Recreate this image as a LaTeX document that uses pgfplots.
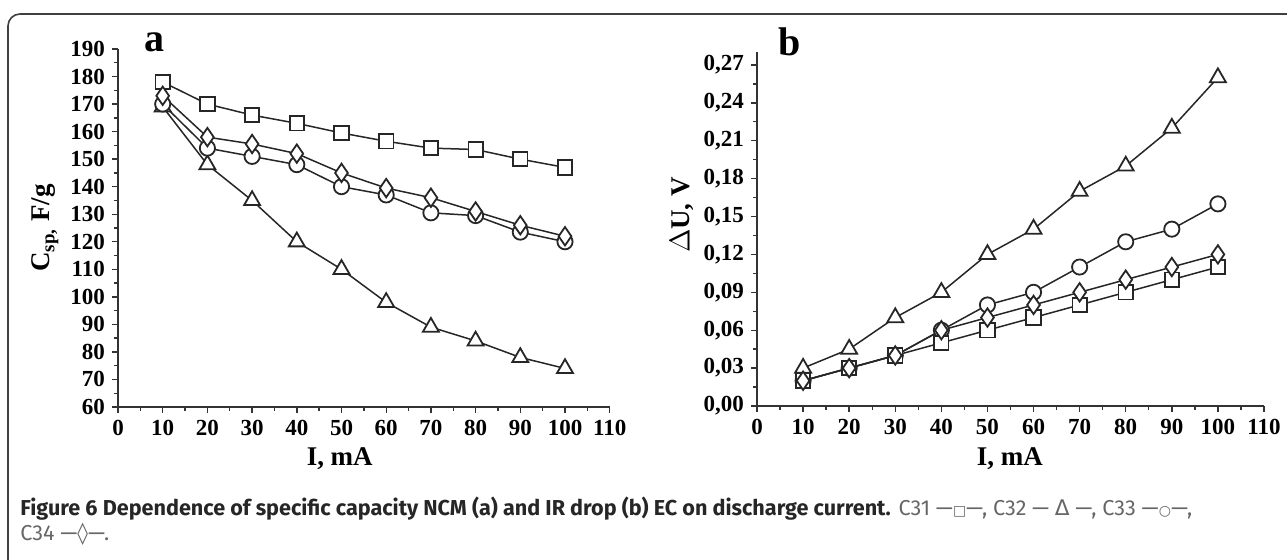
\documentclass[border=0pt]{standalone}
\usepackage{fontspec}
\setmainfont{Liberation Serif}
\newfontfamily\capfont{Fira Sans}
\newfontfamily\symfont{DejaVu Sans}
\usepackage{pgfplots}
\pgfplotsset{compat=1.18}
\pgfplotsset{
  panel/.style={
    scale only axis,
    axis lines*=left,
    axis line style={line width=0.8pt, black!80},
    tick align=outside,
    major tick length=3pt, minor tick length=1.8pt,
    tick style={line width=0.7pt, black!80},
    minor x tick num=1, minor y tick num=1,
    xmin=0, xmax=110, xtick={0,10,...,110},
    tick label style={font=\fontsize{11.5}{12}\selectfont\bfseries},
    /pgf/number format/assume math mode=true,
    label style={font=\fontsize{13.5}{15}\selectfont\bfseries},
    every axis plot/.append style={line width=0.75pt, black!85},
    clip=false,
  },
  mk/.style={mark options={solid, fill=white, line width=0.9pt}},
  sq/.style={mk, mark=square*, mark size=3.6pt},
  tri/.style={mk, mark=triangle*, mark size=4.6pt},
  cir/.style={mk, mark=*, mark size=3.8pt},
  dia/.style={mark=diamond*, mark size=4.6pt, mark options={solid, fill=white, line width=0.9pt, xscale=0.92}},
}
\begin{document}
\begin{tikzpicture}
\useasboundingbox (0,0) rectangle (643.5pt,-280pt);
% frame
\draw[line width=0.8pt, black!75, rounded corners=6pt] (4pt,-290pt) -- (4pt,-7pt) -- (650pt,-7pt);

\begin{axis}[panel,
  width=245.85pt, height=179pt, at={(59pt,-203.5pt)}, anchor=south west,
  ymin=60, ymax=190, ytick={60,70,...,190},
  xlabel={I, mA}, ylabel={C\textsubscript{sp,} F/g},
  xlabel style={at={(axis description cs:0.451,-0.145)}, anchor=center},
  ylabel style={at={(axis description cs:-0.148,0.5)}, anchor=center},
]
\addplot[sq] coordinates {(10,178) (20,170) (30,166) (40,163) (50,159.5) (60,156.5) (70,154) (80,153.5) (90,150) (100,147)};
\addplot[tri] coordinates {(10,169) (20,148) (30,135) (40,120) (50,110) (60,98) (70,89) (80,84) (90,78) (100,74)};
\addplot[cir] coordinates {(10,170) (20,154) (30,151) (40,148) (50,140) (60,137) (70,130.5) (80,129.5) (90,123.5) (100,120)};
\addplot[dia] coordinates {(10,173) (20,158) (30,155.5) (40,152) (50,145) (60,139.5) (70,136) (80,131) (90,126) (100,122)};
\node[font=\fontsize{20}{22}\selectfont\bfseries] at (axis description cs:0.075,1.02) {a};
\end{axis}

\begin{axis}[panel,
  width=253.5pt, height=176.85pt, at={(378.5pt,-203pt)}, anchor=south west,
  ymin=0, ymax=0.28, ytick={0,0.03,0.06,0.09,0.12,0.15,0.18,0.21,0.24,0.27},
  yticklabel style={/pgf/number format/.cd, fixed, fixed zerofill, precision=2, use comma},
  scaled y ticks=false,
  xlabel={I, mA}, ylabel={$\Delta$U, V},
  xlabel style={at={(axis description cs:0.499,-0.148)}, anchor=center},
  ylabel style={at={(axis description cs:-0.148,0.54)}, anchor=center},
]
\addplot[tri] coordinates {(10,0.03) (20,0.045) (30,0.07) (40,0.09) (50,0.12) (60,0.14) (70,0.17) (80,0.19) (90,0.22) (100,0.26)};
\addplot[cir] coordinates {(10,0.02) (20,0.03) (30,0.04) (40,0.06) (50,0.08) (60,0.09) (70,0.11) (80,0.13) (90,0.14) (100,0.16)};
\addplot[sq] coordinates {(10,0.02) (20,0.03) (30,0.04) (40,0.05) (50,0.06) (60,0.07) (70,0.08) (80,0.09) (90,0.10) (100,0.11)};
\addplot[dia] coordinates {(10,0.02) (20,0.03) (30,0.04) (40,0.06) (50,0.07) (60,0.08) (70,0.09) (80,0.10) (90,0.11) (100,0.12)};
\node[font=\fontsize{20}{22}\selectfont\bfseries] at (axis description cs:0.065,1.03) {b};
\end{axis}

\node[anchor=base west, inner sep=0pt, font=\capfont\fontsize{10.8}{12}\selectfont] at (10pt,-258pt)
  {\textcolor{black!85}{\bfseries Figure 6 Dependence of specific capacity NCM (a) and IR drop (b) EC on discharge current.} \textcolor{black!60}{C31 —{\symfont\fontsize{7}{8}\selectfont □}—, C32 — {\symfont Δ} —, C33 —{\symfont\fontsize{7}{8}\selectfont ○}—,}};
\node[anchor=base west, inner sep=0pt, font=\capfont\fontsize{10.8}{12}\selectfont] at (10pt,-270.5pt)
  {\textcolor{black!60}{C34 —{\symfont ◊}—.}};
\end{tikzpicture}
\end{document}
